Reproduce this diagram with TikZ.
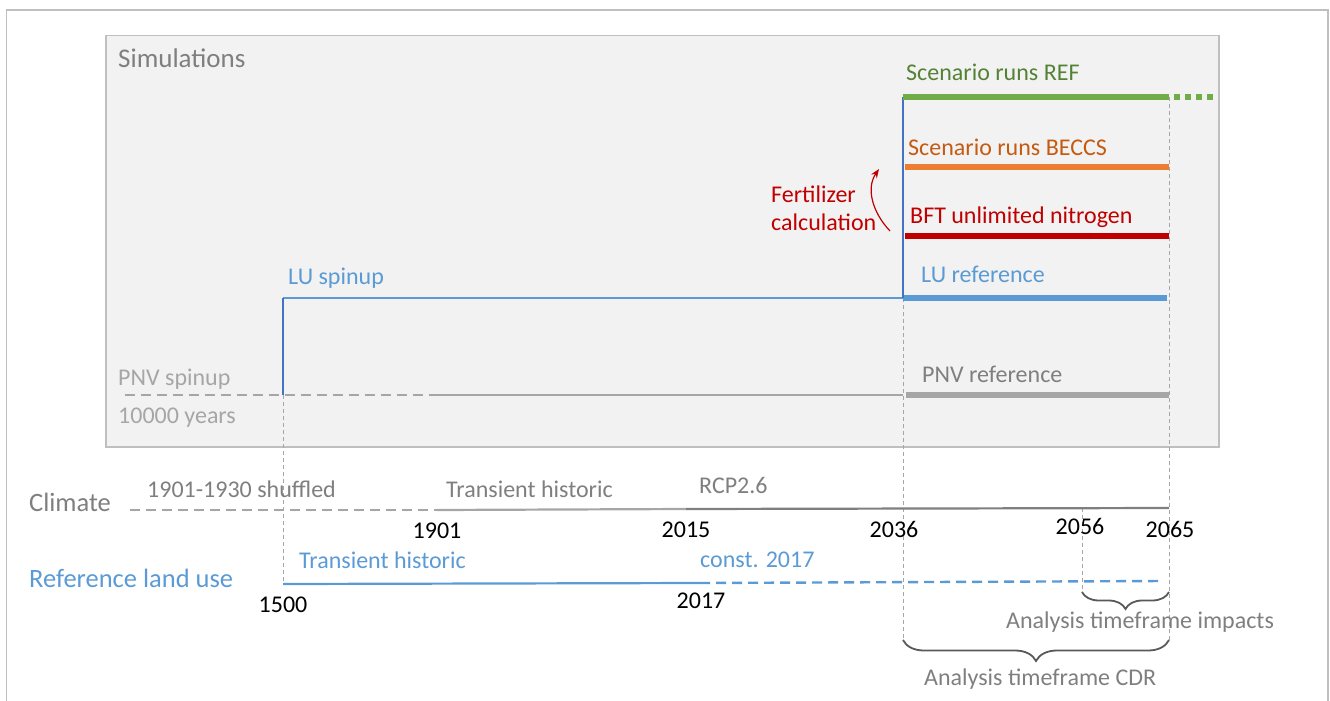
\documentclass[tikz,border=0pt]{standalone}
\usepackage{fontspec}
\setmainfont{Carlito}
\usetikzlibrary{decorations.pathreplacing,arrows.meta}
\definecolor{frame}{HTML}{BFBFBF}
\definecolor{boxfill}{HTML}{F2F2F2}
\definecolor{boxline}{HTML}{BFBFBF}
\definecolor{grn}{HTML}{70AD47}
\definecolor{grntxt}{HTML}{548235}
\definecolor{org}{HTML}{ED7D31}
\definecolor{orgtxt}{HTML}{C55A11}
\definecolor{rd}{HTML}{C00000}
\definecolor{blu}{HTML}{5B9BD5}
\definecolor{dblu}{HTML}{4472C4}
\definecolor{lgray}{HTML}{A6A6A6}
\definecolor{mgray}{HTML}{7F7F7F}
\definecolor{dgray}{HTML}{595959}
\begin{document}
\begin{tikzpicture}[x=1pt,y=-1pt,line cap=butt,
  lbl/.style={anchor=base west,inner sep=0pt,font=\fontsize{24}{28}\selectfont},
  biglbl/.style={anchor=base west,inner sep=0pt,font=\fontsize{26.5}{30}\selectfont},
  yr/.style={anchor=base,inner sep=0pt,text=black,font=\fontsize{24}{28}\selectfont},
  thick run/.style={line width=6.5pt},
  thin run/.style={line width=2.2pt},
  guide/.style={draw=lgray,line width=0.9pt,dash pattern=on 4pt off 3pt},
  spin dash/.style={line width=2.4pt,dash pattern=on 10pt off 6pt},
  bracestyle/.style={draw=dgray,line width=1.8pt,decorate}
]
\useasboundingbox (0,0) rectangle (1330,701);
% outer frame
\draw[frame,line width=1.5pt] (6.5,720) -- (6.5,10) -- (1328,10) -- (1328,720);
% simulations box
\node[draw=boxline,fill=boxfill,line width=1.5pt,minimum width=1113pt,minimum height=411pt,inner sep=0pt,anchor=north west] (box) at (105,35) {};
\node[anchor=base west,inner sep=0pt,text=mgray,font=\fontsize{27}{30}\selectfont] (sim) at (118,67) {Simulations};

% key coordinates
\coordinate (g0) at (903,97);  \coordinate (g1) at (1169,97);  \coordinate (g2) at (1214,97);
\coordinate (o0) at (905,167); \coordinate (o1) at (1169,167);
\coordinate (r0) at (905,236); \coordinate (r1) at (1169,236);
\coordinate (l0) at (283,298); \coordinate (lm) at (903,298); \coordinate (l1) at (1167,298);
\coordinate (p0) at (125,395); \coordinate (pd) at (433,395); \coordinate (p1) at (283,395);
\coordinate (pm) at (903,395); \coordinate (pr0) at (906,395); \coordinate (pr1) at (1169,395);
\coordinate (c0) at (130,510); \coordinate (cd) at (437,510); \coordinate (c15) at (686,509); \coordinate (c1) at (1169,508);
\coordinate (u0) at (283,584); \coordinate (u17) at (700,583); \coordinate (u1) at (1163,581);
\coordinate (b1500) at (283,584);
\coordinate (v2056t) at (1082,508); \coordinate (v2056b) at (1082,592);
\coordinate (v2036b) at (903,640); \coordinate (v2065b) at (1169,640);
\coordinate (ib0) at (1082,592); \coordinate (ib1) at (1169,592);

% guide lines
\draw[guide] (p1) -- (b1500);
\draw[guide] (lm) -- (v2036b);
\draw[guide] (g1) -- (v2065b);
\draw[guide] (v2056t) -- (v2056b);

% PNV spinup
\draw[lgray,spin dash] (p0) -- (pd);
\draw[lgray,thin run] (pd) -- (pm);
\draw[lgray,thick run] (pr0) -- (pr1);
% LU spinup
\draw[blu,thin run] (l0) -- (lm);
\draw[dblu,line width=2pt] (p1) -- (l0);
\draw[blu,thick run] (lm) -- (l1);
% scenario lines
\draw[dblu,line width=2pt] (lm) -- (g0);
\draw[grn,thick run] (g0) -- (g1);
\draw[grn,line width=6.5pt,dash pattern=on 6pt off 5pt] ([xshift=5pt]g1) -- (g2);
\draw[org,thick run] (o0) -- (o1);
\draw[rd,thick run] (r0) -- (r1);

% fertilizer arrow
\coordinate (fa) at (890,231); \coordinate (fb) at (879,169);
\draw[rd,line width=1.2pt,-{Stealth[length=9pt,width=7pt]}] (fa) .. controls (872,212) and (866,188) .. (fb);

% simulation labels
\node[lbl,text=grntxt] (tref) at (906,81) {Scenario runs REF};
\node[lbl,text=orgtxt] (tbeccs) at (908,155) {Scenario runs BECCS};
\node[lbl,text=rd] (tfert) at (771,202) {Fertilizer};
\node[lbl,text=rd] (tcalc) at (771,230) {calculation};
\node[lbl,text=rd] (tbft) at (910,223) {BFT unlimited nitrogen};
\node[lbl,text=blu] (tluref) at (921,282) {LU reference};
\node[lbl,text=blu] (tlusp) at (288,284) {LU spinup};
\node[lbl,text=mgray] (tpnvref) at (922,382) {PNV reference};
\node[lbl,text=lgray] (tpnvsp) at (118,385) {PNV spinup};
\node[lbl,text=lgray] (tyears) at (118,423) {10000 years};

% climate
\draw[lgray,spin dash] (c0) -- (cd);
\draw[lgray,thin run] (cd) -- (c15);
\draw[mgray,thin run] (c15) -- (c1);
\node[biglbl,text=mgray] (tclim) at (29,511) {Climate};
\node[lbl,text=mgray] (tshuf) at (147,497) {1901-1930 shuffled};
\node[lbl,text=mgray] (ttrh) at (446,497) {Transient historic};
\node[lbl,text=mgray] (trcp) at (699,493) {RCP2.6};
\node[yr] (y1901) at (437,538) {1901};
\node[yr] (y2015) at (686,537) {2015};
\node[yr] (y2036) at (894,537) {2036};
\node[yr] (y2056) at (1080,534) {2056};
\node[yr] (y2065) at (1170,537) {2065};

% reference land use
\draw[blu,thin run] (u0) -- (u17);
\draw[blu,spin dash] (u17) -- (u1);
\node[biglbl,text=blu] (tref2) at (29,587) {Reference land use};
\node[lbl,text=blu] (tluth) at (299,568) {Transient historic};
\node[lbl,text=blu] (tconst) at (700,567) {const. 2017};
\node[yr] (y1500) at (283,612) {1500};
\node[yr] (y2017) at (701,608) {2017};

% braces
\draw[bracestyle,decoration={brace,amplitude=17pt}] (ib1) -- (ib0);
\draw[bracestyle,decoration={brace,amplitude=21pt}] (v2065b) -- (v2036b);
\node[lbl,text=mgray] (timp) at (1006,628) {Analysis timeframe impacts};
\node[lbl,text=mgray] (tcdr) at (924,685) {Analysis timeframe CDR};
\end{tikzpicture}
\end{document}
